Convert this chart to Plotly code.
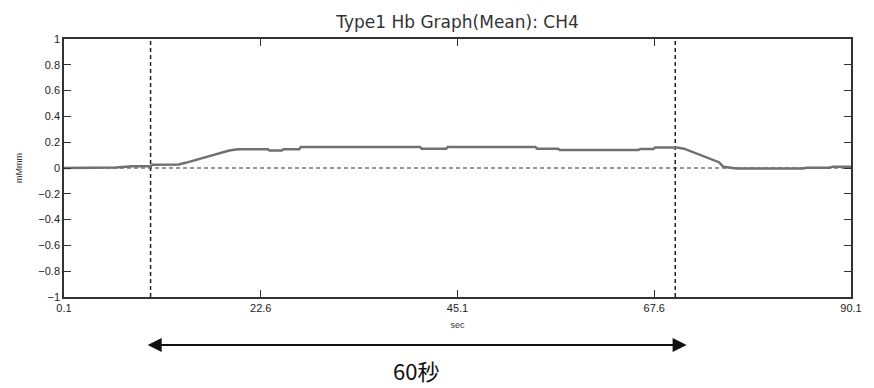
import plotly.graph_objects as go

# ---- data ----
time_sec = [0.1, 2, 4, 6, 7.9, 10, 10.2, 13.2, 14, 15, 16, 17, 18, 19, 20, 23.4, 23.6,
            25, 25.2, 27, 27.2, 40.8, 41, 43.8, 44, 54, 54.2, 56.6, 56.8, 65.8, 66,
            67.5, 67.7, 70.2, 71, 72, 73, 74, 75, 75.5, 76.5, 77, 84.6, 85, 87.6, 88, 90.1]
hb_mean = [0.0, 0.0, 0.002, 0.004, 0.013, 0.013, 0.025, 0.028, 0.04, 0.06, 0.08, 0.10, 0.12,
           0.135, 0.145, 0.145, 0.135, 0.135, 0.145, 0.145, 0.163, 0.163, 0.15, 0.15, 0.163,
           0.163, 0.15, 0.15, 0.14, 0.14, 0.148, 0.148, 0.158, 0.158, 0.15, 0.125, 0.1, 0.075,
           0.045, 0.01, 0.0, -0.004, -0.004, 0.002, 0.002, 0.01, 0.01]

stim_marks = [10, 70]          # task onset / offset (sec)
x_ticks = [0.1, 22.6, 45.1, 67.6, 90.1]
y_ticks = [1, 0.8, 0.6, 0.4, 0.2, 0, -0.2, -0.4, -0.6, -0.8, -1]
y_tick_text = ["1", "0.8", "0.6", "0.4", "0.2", "0", "\u22120.2", "\u22120.4", "\u22120.6", "\u22120.8", "\u22121"]
x_range = [0.1, 90.1]
y_range = [-1, 1]
span_label = "60秒"
arrow_span = [9.5, 71.3]

fig = go.Figure()
fig.add_trace(go.Scatter(x=time_sec, y=hb_mean, mode="lines",
                         line=dict(color="#707070", width=2.5), showlegend=False,
                         hoverinfo="skip"))

# zero baseline
fig.add_shape(type="line", xref="x", yref="y", x0=x_range[0], x1=x_range[1], y0=0, y1=0,
              line=dict(color="#333", width=1, dash="4px,3px"), layer="below")
# stimulus markers
for m in stim_marks:
    fig.add_shape(type="line", xref="x", yref="y", x0=m, x1=m, y0=y_range[0], y1=y_range[1],
                  line=dict(color="#222", width=1.5, dash="4px,3px"), layer="below")

# double arrow under the plot (paper y below the axis)
fig.add_annotation(x=arrow_span[1], y=-0.186, ax=arrow_span[0], ay=0,
                   xref="x", yref="paper", axref="x", ayref="pixel", text="", showarrow=True,
                   arrowhead=2, arrowside="end+start", arrowsize=1.4, arrowwidth=2,
                   arrowcolor="#111")
fig.add_annotation(x=(stim_marks[0] + stim_marks[1]) / 2 + 0.4, y=-0.284, xref="x", yref="paper",
                   text=span_label, showarrow=False, yanchor="middle",
                   font=dict(family="Noto Sans CJK JP", size=22, color="#111"))

axis_common = dict(showline=True, linecolor="#333", linewidth=1.5, mirror="ticks",
                   ticks="inside", ticklen=7, tickcolor="#333", tickwidth=1.2,
                   showgrid=False, zeroline=False,
                   tickfont=dict(family="Liberation Sans, Arial", size=11, color="#222"))

fig.update_xaxes(range=x_range, tickvals=x_ticks, ticktext=[str(v) for v in x_ticks],
                 title=dict(text="sec", font=dict(family="Liberation Sans, Arial", size=9, color="#333"),
                            standoff=9), **axis_common)
fig.update_yaxes(range=y_range, tickvals=y_ticks, ticktext=y_tick_text,
                 title=dict(text="mMmm", font=dict(family="Liberation Sans, Arial", size=9, color="#333"),
                            standoff=14), **axis_common)

fig.update_layout(
    width=874, height=388,
    margin=dict(l=64, r=15, t=39, b=91),
    paper_bgcolor="white", plot_bgcolor="white",
    title=dict(text="Type1 Hb Graph(Mean): CH4", x=0.5, xref="paper", xanchor="center",
               y=1 - 22 / 388, yref="container", yanchor="middle",
               font=dict(family="DejaVu Sans", size=17, color="#333")),
)

fig.write_html("out.html", config={"displayModeBar": False},
               post_script="document.body.style.margin='0';")
